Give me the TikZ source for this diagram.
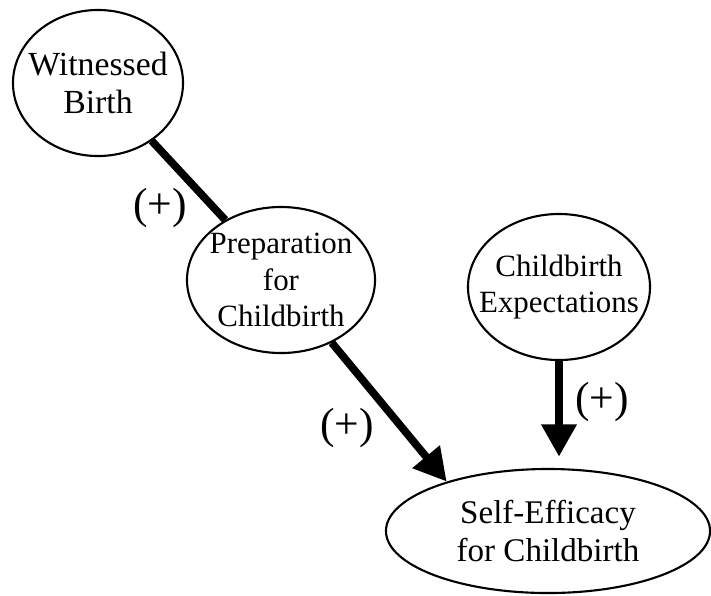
\documentclass[tikz,border=0pt]{standalone}
\usepackage{fontspec}
\setmainfont{Liberation Serif}
\usetikzlibrary{shapes.geometric,arrows.meta}

\tikzset{
  factor/.style={ellipse,draw,line width=1.5pt,inner xsep=-2cm,inner ysep=-1.5cm,
    align=center,font=\fontsize{22}{26}\selectfont},
  path/.style={line width=5.5pt},
  effect/.style={path,-{Triangle[length=23pt,width=24pt]}},
  sign/.style={font=\fontsize{31}{33}\selectfont}
}

\begin{document}
\begin{tikzpicture}[x=0.025cm,y=-0.025cm]
		\useasboundingbox (0,0) rectangle (711,595);
		% Define factors
		\node[factor,minimum width=4.25cm,minimum height=3.65cm,font=\fontsize{24}{27}\selectfont] (wit) at (98,83) {Witnessed\\Birth};
		\node[factor,minimum width=4.7cm,minimum height=3.65cm] (prep) at (281,280) {Preparation\\for\\Childbirth};
		\node[factor,minimum width=4.55cm,minimum height=3.65cm] (expect) at (559,287) {Childbirth\\Expectations};
		\node[factor,minimum width=8.1cm,minimum height=3.1cm,font=\fontsize{23.5}{27}\selectfont] (self) at (548,531) {Self-Efficacy\\for Childbirth};
		% Paths
		\draw[path] (wit) -- (prep);
		\draw[effect] (prep.-51) -- (self.154);
		\draw[effect,shorten >=8pt] (expect.south) -- (expect.south |- self.north);
		% Signs
		\node[sign] (s1) at (160,208) {(+)};
		\node[sign] (s2) at (347,428) {(+)};
		\node[sign] (s3) at (602,402) {(+)};
	\end{tikzpicture}
\end{document}
